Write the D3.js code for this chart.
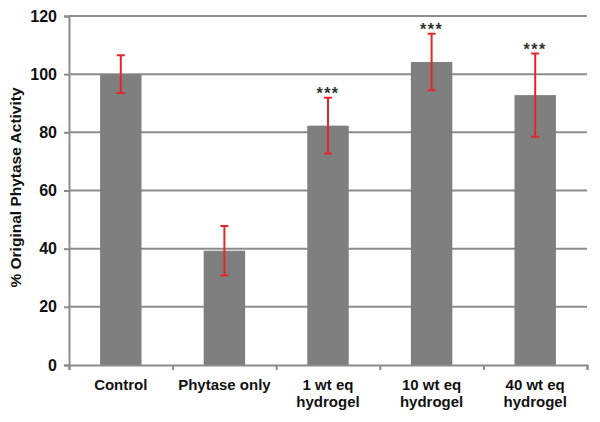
<!DOCTYPE html>
<html><head><meta charset="utf-8">
<script src="https://cdn.jsdelivr.net/npm/d3@7"></script>
<style>body{margin:0;background:#fff;} svg{display:block;}</style>
</head><body>
<script>
const categories = [["Control"],["Phytase only"],["1 wt eq","hydrogel"],["10 wt eq","hydrogel"],["40 wt eq","hydrogel"]];
const values = [100, 39.3, 82.3, 104.2, 92.8];
const errors = [6.5, 8.5, 9.6, 9.7, 14.3];
const significance = ["", "", "***", "***", "***"];
const yTicks = [0, 20, 40, 60, 80, 100, 120];
const yTitle = "% Original Phytase Activity";

const W = 600, H = 422;
const margin = {left: 69, right: 13, top: 16, bottom: 57};
const svg = d3.select("body").append("svg").attr("width", W).attr("height", H);
const x = d3.scaleBand().domain(d3.range(categories.length)).range([margin.left, W - margin.right]).paddingInner(0.6).paddingOuter(0.3);
const y = d3.scaleLinear().domain([0, 120]).range([H - margin.bottom, margin.top]);
const font = "'Liberation Sans', Arial, sans-serif";

// gridlines
svg.append("g").selectAll("line").data(yTicks.filter(d => d > 0)).join("line")
  .attr("x1", margin.left).attr("x2", W - margin.right)
  .attr("y1", d => y(d)).attr("y2", d => y(d))
  .attr("stroke", "#8c8c8c").attr("stroke-width", 2);

// bars
svg.append("g").selectAll("rect").data(values).join("rect")
  .attr("x", (d, i) => x(i)).attr("width", x.bandwidth())
  .attr("y", d => y(d)).attr("height", d => y(0) - y(d))
  .attr("fill", "#7f7f7f");

// error bars
const eg = svg.append("g").attr("stroke", "#e3262d").attr("stroke-width", 2);
values.forEach((v, i) => {
  const cx = x(i) + x.bandwidth() / 2;
  eg.append("line").attr("x1", cx).attr("x2", cx).attr("y1", y(v + errors[i])).attr("y2", y(v - errors[i]));
  [v + errors[i], v - errors[i]].forEach(e => {
    eg.append("line").attr("x1", cx - 4).attr("x2", cx + 4).attr("y1", y(e)).attr("y2", y(e));
  });
});

// significance stars
svg.append("g").selectAll("text").data(significance).join("text")
  .attr("x", (d, i) => x(i) + x.bandwidth() / 2)
  .attr("y", (d, i) => y(values[i] + errors[i]) + 1)
  .attr("text-anchor", "middle").attr("font-family", font).attr("font-size", 16).attr("font-weight", "bold")
  .attr("letter-spacing", 1.5)
  .attr("fill", "#333").text(d => d);

// y axis
const yAxis = d3.axisLeft(y).tickValues(yTicks).tickSize(5).tickPadding(7);
const ya = svg.append("g").attr("transform", `translate(${margin.left},0)`).call(yAxis);
ya.select(".domain").attr("stroke", "#8c8c8c").attr("stroke-width", 2);
ya.selectAll(".tick line").attr("stroke", "#8c8c8c").attr("stroke-width", 2);
ya.selectAll(".tick text").attr("font-family", font).attr("font-size", 16).attr("font-weight", "bold").attr("fill", "#111");

// x axis
const xs = d3.scaleLinear().domain([0, categories.length]).range([margin.left, W - margin.right]);
const xAxis = d3.axisBottom(xs).tickValues(d3.range(categories.length + 1)).tickSize(5).tickFormat("");
const xa = svg.append("g").attr("transform", `translate(0,${y(0)})`).call(xAxis);
xa.select(".domain").attr("stroke", "#8c8c8c").attr("stroke-width", 2);
xa.selectAll(".tick line").attr("stroke", "#8c8c8c").attr("stroke-width", 2);

// category labels
const lg = svg.append("g");
categories.forEach((lines, i) => {
  const t = lg.append("text").attr("x", x(i) + x.bandwidth() / 2).attr("y", 390)
    .attr("text-anchor", "middle").attr("font-family", font).attr("font-size", 15).attr("font-weight", "bold").attr("fill", "#111");
  lines.forEach((l, j) => t.append("tspan").attr("x", x(i) + x.bandwidth() / 2).attr("dy", j === 0 ? 0 : 17).text(l));
});

// y title
svg.append("text").attr("transform", `translate(21,187.5) rotate(-90)`)
  .attr("text-anchor", "middle").attr("font-family", font).attr("font-size", 15.5).attr("font-weight", "bold").attr("fill", "#111")
  .text(yTitle);
</script>
</body></html>
